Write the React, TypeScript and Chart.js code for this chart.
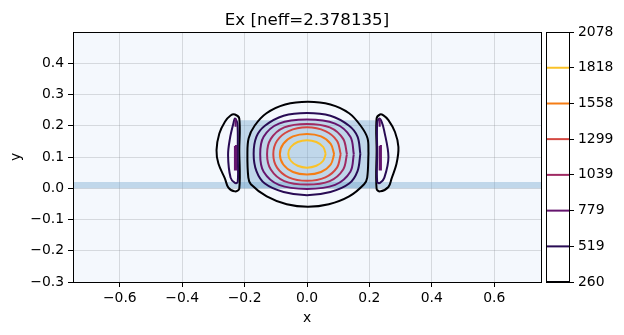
import React, { useEffect, useRef } from "react";
import { Chart, registerables } from "chart.js";

Chart.register(...registerables);

type P = [number, number];

const titleText = "Ex [neff=2.378135]";
const xTicks = [-0.6, -0.4, -0.2, 0, 0.2, 0.4, 0.6];
const yTicks = [-0.3, -0.2, -0.1, 0, 0.1, 0.2, 0.3, 0.4];
const levels = [260, 519, 779, 1039, 1299, 1558, 1818, 2078];
const levelColors = ["#000004", "#280b54", "#65156e", "#9f2a63", "#d44842", "#f57d15", "#fac228", "#fcffa4"];

const core: P[] = [[-0.22, 0], [-0.22, 0.218], [0.22, 0.218], [0.22, 0]];
const slab: P[] = [[-0.75, 0], [-0.75, 0.02], [0.75, 0.02], [0.75, 0]];

const c260Main: P[] = [[0.197, 0.111], [0.194, 0.16], [0.172, 0.2], [0.135, 0.24], [0.075, 0.268], [0.003, 0.277], [-0.07, 0.268], [-0.13, 0.24], [-0.168, 0.2], [-0.187, 0.16], [-0.191, 0.111], [-0.188, 0.034], [-0.18, 0.013], [-0.129, -0.026], [-0.065, -0.051], [0.003, -0.059], [0.07, -0.051], [0.135, -0.026], [0.183, 0.013], [0.193, 0.034], [0.197, 0.111]];
const c260Left: P[] = [[-0.217, 0.122], [-0.217, 0.223], [-0.231, 0.236], [-0.245, 0.233], [-0.263, 0.213], [-0.281, 0.175], [-0.29, 0.122], [-0.284, 0.079], [-0.263, 0.031], [-0.252, 0.002], [-0.231, -0.01], [-0.217, -0.001], [-0.217, 0.122]];
const c260Right: P[] = [[0.223, 0.122], [0.223, 0.223], [0.234, 0.236], [0.245, 0.233], [0.261, 0.218], [0.282, 0.18], [0.293, 0.132], [0.287, 0.079], [0.271, 0.031], [0.261, 0.004], [0.234, -0.01], [0.223, -0.001], [0.223, 0.122]];
const c519Main: P[] = [[0.171, 0.11], [0.162, 0.165], [0.135, 0.2], [0.075, 0.232], [0, 0.241], [-0.075, 0.232], [-0.135, 0.2], [-0.162, 0.165], [-0.171, 0.11], [-0.162, 0.055], [-0.135, 0.015], [-0.075, -0.012], [0, -0.022], [0.075, -0.012], [0.135, 0.015], [0.162, 0.055], [0.171, 0.11]];
const c519Left: P[] = [[-0.222, 0.111], [-0.223, 0.207], [-0.231, 0.223], [-0.236, 0.207], [-0.247, 0.159], [-0.253, 0.106], [-0.245, 0.034], [-0.231, 0.017], [-0.222, 0.02], [-0.222, 0.111]];
const c519Right: P[] = [[0.225, 0.111], [0.225, 0.207], [0.232, 0.223], [0.239, 0.213], [0.247, 0.186], [0.261, 0.1], [0.248, 0.034], [0.234, 0.017], [0.225, 0.02], [0.225, 0.111]];
const c779Main: P[] = [[0.15, 0.109], [0.139, 0.165], [0.09, 0.207], [0, 0.22], [-0.09, 0.207], [-0.139, 0.165], [-0.15, 0.109], [-0.139, 0.053], [-0.09, 0.011], [0, -0.002], [0.09, 0.011], [0.139, 0.053], [0.15, 0.109]];
const c779LeftBar: P[] = [[-0.231, 0.135], [-0.227, 0.135], [-0.227, 0.06], [-0.231, 0.06], [-0.231, 0.135]];
const c779RightBar: P[] = [[0.233, 0.135], [0.237, 0.135], [0.237, 0.06], [0.233, 0.06], [0.233, 0.135]];
const c779LeftTop: P[] = [[-0.229, 0.223], [-0.229, 0.197]];
const c779RightTop: P[] = [[0.233, 0.223], [0.233, 0.197]];
const c1039: P[] = [[0.128, 0.109], [0.116, 0.158], [0.073, 0.195], [0, 0.206], [-0.073, 0.195], [-0.116, 0.158], [-0.128, 0.109], [-0.116, 0.06], [-0.073, 0.023], [0, 0.012], [0.073, 0.023], [0.116, 0.06], [0.128, 0.109]];
const c1299: P[] = [[0.108, 0.109], [0.096, 0.152], [0.059, 0.183], [0, 0.195], [-0.059, 0.183], [-0.096, 0.152], [-0.108, 0.109], [-0.096, 0.066], [-0.059, 0.035], [0, 0.024], [0.059, 0.035], [0.096, 0.066], [0.108, 0.109]];
const c1558: P[] = [[0.087, 0.109], [0.076, 0.142], [0.045, 0.166], [0, 0.174], [-0.045, 0.166], [-0.076, 0.142], [-0.087, 0.109], [-0.076, 0.076], [-0.045, 0.052], [0, 0.044], [0.045, 0.052], [0.076, 0.076], [0.087, 0.109]];
const c1818: P[] = [[0.06, 0.11], [0.052, 0.132], [0.03, 0.148], [0, 0.154], [-0.03, 0.148], [-0.052, 0.132], [-0.06, 0.11], [-0.052, 0.088], [-0.03, 0.072], [0, 0.066], [0.03, 0.072], [0.052, 0.088], [0.06, 0.11]];

const contours: { pts: P[]; level: number; fill?: boolean; tension?: number }[] = [
  { pts: c1818, level: 6 },
  { pts: c1558, level: 5 },
  { pts: c1299, level: 4 },
  { pts: c1039, level: 3 },
  { pts: c779RightTop, level: 2, tension: 0 },
  { pts: c779LeftTop, level: 2, tension: 0 },
  { pts: c779RightBar, level: 2, fill: true, tension: 0 },
  { pts: c779LeftBar, level: 2, fill: true, tension: 0 },
  { pts: c779Main, level: 2 },
  { pts: c519Right, level: 1 },
  { pts: c519Left, level: 1 },
  { pts: c519Main, level: 1 },
  { pts: c260Right, level: 0 },
  { pts: c260Left, level: 0 },
  { pts: c260Main, level: 0 },
];

const FONT = "'DejaVu Sans', sans-serif";
const TICK_SIZE = 13.9;
const toXY = (pts: P[]) => pts.map(([x, y]) => ({ x, y }));
const minusFmt = (v: number | string) => String(v).replace("-", "\u2212");

const framePlugin = (bg: string) => ({
  id: "frame",
  beforeDraw(chart: any) {
    const { ctx, chartArea: a } = chart;
    ctx.save();
    ctx.fillStyle = bg;
    ctx.fillRect(a.left, a.top, a.right - a.left, a.bottom - a.top);
    ctx.restore();
  },
  afterDraw(chart: any) {
    const { ctx, chartArea: a } = chart;
    ctx.save();
    ctx.strokeStyle = "#000";
    ctx.lineWidth = 1;
    ctx.strokeRect(a.left + 0.5, a.top + 0.5, a.right - a.left, a.bottom - a.top);
    ctx.restore();
  },
});

export default function App() {
  const mainRef = useRef<HTMLCanvasElement>(null);
  const barRef = useRef<HTMLCanvasElement>(null);

  useEffect(() => {
    const gridColor = "rgba(128,133,140,0.27)";
    const main = new Chart(mainRef.current!, {
      type: "scatter",
      data: {
        datasets: [
          ...contours.map((c) => ({
            data: toXY(c.pts),
            showLine: true,
            fill: !!c.fill,
            backgroundColor: levelColors[c.level],
            borderColor: levelColors[c.level],
            borderWidth: 2,
            tension: c.tension ?? 0.35,
            pointRadius: 0,
          })),
          { data: toXY(core), showLine: true, fill: true, backgroundColor: "rgba(114,165,205,0.4)", borderWidth: 0, pointRadius: 0 },
          { data: toXY(slab), showLine: true, fill: true, backgroundColor: "rgba(114,165,205,0.4)", borderWidth: 0, pointRadius: 0 },
        ],
      } as any,
      options: {
        responsive: false,
        animation: false,
        layout: { padding: { left: 0, right: 83, top: 0, bottom: 0 } },
        plugins: {
          legend: { display: false },
          tooltip: { enabled: false },
          title: {
            display: true,
            text: titleText,
            color: "#000",
            fullSize: false,
            font: { family: FONT, size: 16.67, weight: "normal", lineHeight: 1.2 },
            padding: { top: 11, bottom: 1 },
          },
        },
        scales: {
          x: {
            type: "linear",
            min: -0.75,
            max: 0.75,
            afterBuildTicks: (s: any) => { s.ticks = xTicks.map((value) => ({ value })); },
            afterFit: (s: any) => { s.height = 53; },
            grid: { color: gridColor, tickColor: "#000", tickLength: 5, lineWidth: 1 },
            border: { display: false },
            ticks: {
              color: "#000",
              padding: 3,
              maxRotation: 0,
              autoSkip: false,
              font: { family: FONT, size: TICK_SIZE },
              callback: (v: any) => minusFmt(Number(v).toFixed(1)),
            },
            title: { display: true, text: "x", color: "#000", font: { family: FONT, size: TICK_SIZE }, padding: { top: 0, bottom: 8 } },
          },
          y: {
            type: "linear",
            min: -0.3,
            max: 0.5,
            afterBuildTicks: (s: any) => { s.ticks = yTicks.map((value) => ({ value })); },
            afterFit: (s: any) => { s.width = 73; },
            grid: { color: gridColor, tickColor: "#000", tickLength: 5, lineWidth: 1 },
            border: { display: false },
            ticks: {
              color: "#000",
              padding: 4,
              autoSkip: false,
              font: { family: FONT, size: TICK_SIZE },
              callback: (v: any) => minusFmt(Number(v).toFixed(1)),
            },
            title: { display: true, text: "y", color: "#000", font: { family: FONT, size: TICK_SIZE }, padding: { top: 8, bottom: 0 } },
          },
        },
      } as any,
      plugins: [framePlugin("#f4f8fd")],
    } as any);

    const bar = new Chart(barRef.current!, {
      type: "scatter",
      data: {
        datasets: levels.map((lv, i) => ({
          data: [{ x: 0, y: lv }, { x: 1, y: lv }],
          showLine: true,
          borderColor: levelColors[i],
          borderWidth: 2,
          pointRadius: 0,
        })),
      } as any,
      options: {
        responsive: false,
        animation: false,
        layout: { padding: { left: 546, right: 0, top: 32, bottom: 53 } },
        plugins: { legend: { display: false }, tooltip: { enabled: false }, title: { display: false } },
        scales: {
          x: { type: "linear", min: 0, max: 1, display: false },
          y: {
            type: "linear",
            position: "right",
            min: 260,
            max: 2078,
            afterBuildTicks: (s: any) => { s.ticks = levels.map((value) => ({ value })); },
            afterFit: (s: any) => { s.width = 55; },
            grid: { display: true, drawOnChartArea: false, tickColor: "#000", tickLength: 5 },
            border: { display: false },
            ticks: {
              color: "#000",
              padding: 4,
              autoSkip: false,
              font: { family: FONT, size: TICK_SIZE },
              callback: (v: any) => String(v),
            },
          },
        },
      } as any,
      plugins: [framePlugin("#ffffff")],
    } as any);

    return () => {
      main.destroy();
      bar.destroy();
    };
  }, []);

  const style: React.CSSProperties = { position: "fixed", left: 0, top: 0, width: 624, height: 335 };
  return (
    <div style={{ position: "fixed", left: 0, top: 0, width: 624, height: 335, background: "#fff" }}>
      <canvas ref={mainRef} width={624} height={335} style={style} />
      <canvas ref={barRef} width={624} height={335} style={style} />
    </div>
  );
}
